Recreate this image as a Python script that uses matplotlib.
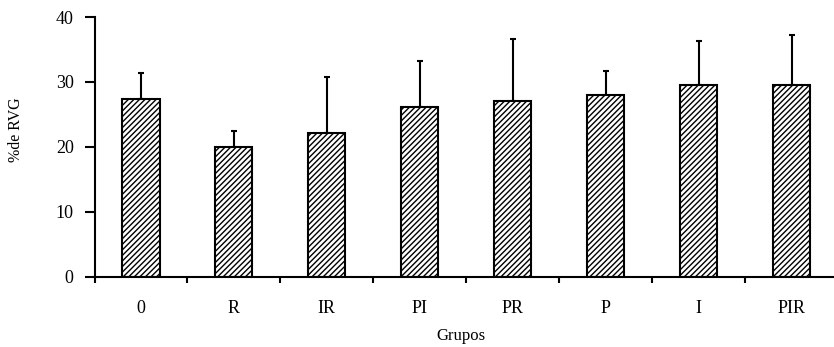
import numpy as np
import matplotlib.pyplot as plt

# % de RVG por grupo (media + desvio, solo hacia arriba)
grupos = ['0', 'R', 'IR', 'PI', 'PR', 'P', 'I', 'PIR']
medias = [27.4, 20.0, 22.1, 26.1, 27.1, 27.9, 29.5, 29.5]
desvios = [4.0, 2.5, 8.6, 7.1, 9.5, 3.8, 6.8, 7.8]

plt.rcParams['font.family'] = ['Liberation Serif', 'DejaVu Serif']
plt.rcParams['hatch.linewidth'] = 1.0

fig = plt.figure(figsize=(8.34, 3.47), dpi=100)
ax = fig.add_axes([94.5 / 834, 1 - 276.5 / 347, (838 - 94.5) / 834, (276.5 - 17) / 347])

x = np.arange(len(grupos))
ax.bar(x, medias, width=0.4, color='white', edgecolor='black', linewidth=1.5,
       hatch='//////', zorder=2)
ax.errorbar(x, medias, yerr=[np.zeros(len(desvios)), desvios], fmt='none',
            ecolor='black', elinewidth=1.5, capsize=2.5, capthick=1.5, zorder=1)

ax.set_xlim(-0.5, len(grupos) - 0.5)
ax.set_ylim(0, 40)
ax.set_yticks([0, 10, 20, 30, 40])
ax.set_xticks(x)
ax.set_xticklabels(grupos)
ax.set_xticks(np.arange(len(grupos)) - 0.5, minor=True)

ax.tick_params(axis='x', which='major', length=0, pad=17, labelsize=13)
ax.tick_params(axis='x', which='minor', direction='out', length=4, width=1.5)
ax.tick_params(axis='y', direction='out', length=7, width=1.5, pad=8, labelsize=13)

for s in ['top', 'right']:
    ax.spines[s].set_visible(False)
for s in ['left', 'bottom']:
    ax.spines[s].set_linewidth(1.5)

ax.set_xlabel('Grupos', fontsize=12)
ax.xaxis.set_label_coords(0.493, -0.2)
ax.set_ylabel('%de RVG', fontsize=11.5)
ax.yaxis.set_label_coords(-0.095, 0.565)

fig.savefig('out.png', dpi=100)
